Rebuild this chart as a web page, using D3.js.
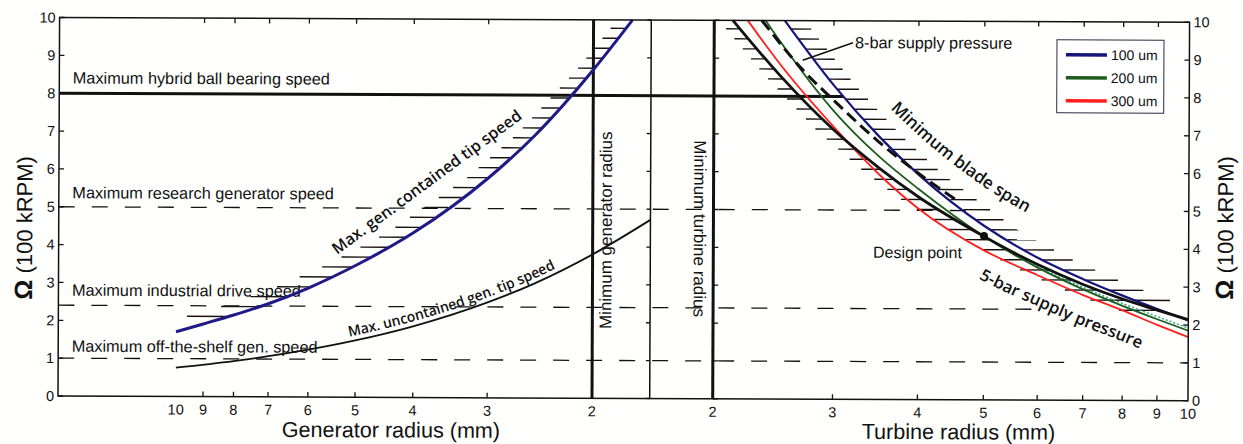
<!DOCTYPE html>
<html>
<head>
<meta charset="utf-8">
<script src="https://cdn.jsdelivr.net/npm/d3@7"></script>
<style>
body { margin: 0; background: #fff; }
svg { display: block; }
text { font-family: "Liberation Sans", Arial, sans-serif; fill: #111; }
.tick { font-family: "Liberation Sans Narrow", "Liberation Sans", Arial, sans-serif; font-size: 14.5px; }
.semi { font-family: "Open Sans", "Noto Sans", sans-serif; font-weight: 600; }
</style>
</head>
<body>
<svg id="chart" width="1243" height="444"></svg>
<script>
// speed limits (100 kRPM) and the turbine radius where each line stops
var limitNames = ["Maximum hybrid ball bearing speed", "Maximum research generator speed",
    "Maximum industrial drive speed", "Maximum off-the-shelf gen. speed"];
var limitValues = [8, 5, 2.4, 1];
var limitEnds = [3.1, 4.75, 6, 10];

// generator side, radius in mm
var genR = [10, 9, 8, 7, 6, 5, 4, 3, 2.5, 2, 1.72];
var genContained = [1.71, 1.92, 2.16, 2.46, 2.88, 3.48, 4.35, 5.8, 6.95, 8.68, 10];
var genUncR = [10, 8, 6, 5, 4, 3, 2.5, 2, 1.6];
var genUncontained = [0.76, 0.94, 1.25, 1.5, 1.88, 2.52, 3.03, 3.8, 4.72];

// turbine side
var bladeR = [2.54, 3, 3.5, 4, 5, 6, 7, 8, 9, 10];
var bladeSpan = [10, 8.3, 6.95, 5.95, 4.6, 3.76, 3.2, 2.77, 2.42, 2.12];
var supply5R = [2.13, 2.5, 3, 3.5, 4, 5, 6, 7, 8, 9, 10];
var supply5 = [10, 8.55, 7.12, 6.12, 5.36, 4.32, 3.58, 3.06, 2.68, 2.39, 2.14];
var supply8R = [2.35, 2.7, 3, 3.5, 4, 4.6];
var supply8 = [10, 8.7, 7.9, 6.8, 5.98, 5.22];
var clr200R = [2.38, 2.5, 3, 3.5, 4, 5, 6, 7, 8, 9, 10];
var clr200 = [10, 9.45, 7.62, 6.42, 5.57, 4.32, 3.5, 2.93, 2.5, 2.15, 1.85];
var clr300R = [2.24, 2.5, 3, 3.5, 4, 5, 6, 7, 8, 9, 10];
var clr300 = [10, 8.85, 7.2, 5.95, 5.05, 3.95, 3.3, 2.78, 2.38, 2.0, 1.68];
var clrDotR = [5, 6, 7, 8, 9, 10];
var clrDot = [4.3, 3.52, 2.98, 2.56, 2.22, 1.92];
var designR = 5, designSpeed = 4.33;

var speedTicks = [0, 1, 2, 3, 4, 5, 6, 7, 8, 9, 10];
var genTicks = [10, 9, 8, 7, 6, 5, 4, 3, 2];
var turbTicks = [2, 3, 4, 5, 6, 7, 8, 9, 10];
var legendNames = ["100 um", "200 um", "300 um"];

var navy = "#15157a", green = "#1d5c1d", red = "#ff1f1f", ink = "#111";
var legendColors = [navy, green, red];

var plotLeft = 58, plotRight = 1188, plotTop = 17.5, plotBottom = 396;

var y = d3.scaleLinear().domain([0, 10]).range([plotBottom, plotTop]);
var gx = d3.scaleLog().domain([9, 2]).range([203, 592]);
var tx = d3.scaleLog().domain([2, 10]).range([712.7, plotRight]);
var midX = gx(1.6);

function pairs(rs, ws) {
    return rs.map(function(r, i) { return [r, ws[i]]; });
}

function lineFor(scale, off) {
    return d3.line()
        .x(function(d) { return scale(d[0]); })
        .y(function(d) { return y(d[1]) + (off || 0); })
        .curve(d3.curveMonotoneX);
}

// x of a curve at a given speed, linear between points in log radius
function xAtLevel(rs, ws, scale, level) {
    for (var i = 0; i < ws.length - 1; i++) {
        var a = ws[i], b = ws[i + 1];
        if (a !== b && (level - a) * (level - b) <= 0) {
            var t = (level - a) / (b - a);
            return scale(Math.exp(Math.log(rs[i]) + t * (Math.log(rs[i + 1]) - Math.log(rs[i]))));
        }
    }
    return null;
}

var svg = d3.select("#chart");
svg.append("rect").attr("width", 1243).attr("height", 444).attr("fill", "#fffffd");

// the scan is a little tilted
var g = svg.append("g").attr("transform", "rotate(0.24," + plotLeft + "," + plotBottom + ")");

// speed limit lines
limitValues.forEach(function(v, i) {
    g.append("line")
        .attr("x1", plotLeft).attr("x2", tx(limitEnds[i]))
        .attr("y1", y(v)).attr("y2", y(v))
        .attr("stroke", ink)
        .attr("stroke-width", i === 0 ? 3 : 1.3)
        .attr("stroke-dasharray", i === 0 ? null : "16,17");
    g.append("text")
        .attr("x", 71.5)
        .attr("y", y(v) - [9.7, 8.5, 9.5, 6.5][i])
        .attr("font-size", "16.3px")
        .text(limitNames[i]);
});

// radius limits
g.append("line").attr("x1", gx(2)).attr("x2", gx(2)).attr("y1", plotTop).attr("y2", plotBottom)
    .attr("stroke", ink).attr("stroke-width", 3);
g.append("line").attr("x1", tx(2)).attr("x2", tx(2)).attr("y1", plotTop).attr("y2", plotBottom)
    .attr("stroke", ink).attr("stroke-width", 3);
g.append("line").attr("x1", midX).attr("x2", midX).attr("y1", plotTop).attr("y2", plotBottom)
    .attr("stroke", ink).attr("stroke-width", 1.5);

// hatching on the forbidden side of each bound
var levels = d3.range(30).map(function(k) { return 2.12 + 0.264 * k; });
function hatch(rs, ws, scale, side, a, b, minLevel) {
    levels.forEach(function(lv) {
        if (lv < minLevel) return;
        var xc = xAtLevel(rs, ws, scale, lv);
        if (xc === null) return;
        var len = a * Math.pow(lv, -b);
        var x1 = side < 0 ? Math.max(plotLeft, xc - len) : xc;
        var x2 = side < 0 ? xc : Math.min(plotRight, xc + len);
        g.append("line")
            .attr("x1", x1).attr("x2", x2)
            .attr("y1", y(lv)).attr("y2", y(lv))
            .attr("stroke", "#1a1212").attr("stroke-width", 1.4);
    });
}
hatch(genR, genContained, gx, -1, 68, 0.653, 2.1);
hatch(supply5R, supply5, tx, -1, 73, 0.725, 2.1);
hatch(bladeR, bladeSpan, tx, 1, 54, 0.437, 2.6);

// curves
function curve(rs, ws, scale, color, width, dash) {
    return g.append("path")
        .datum(pairs(rs, ws))
        .attr("d", lineFor(scale))
        .attr("fill", "none")
        .attr("stroke", color)
        .attr("stroke-width", width)
        .attr("stroke-dasharray", dash || null);
}
curve(genR, genContained, gx, "#1e1a86", 3);
curve(genUncR, genUncontained, gx, ink, 1.8);
curve(clrDotR, clrDot, tx, "#2aa58a", 1.5, "2,2");
curve(clr300R, clr300, tx, red, 1.8);
curve(clr200R, clr200, tx, green, 1.8);
curve(bladeR, bladeSpan, tx, navy, 2.2);
curve(supply8R, supply8, tx, ink, 3, "12,6");
curve(supply5R, supply5, tx, ink, 2.8);

g.append("circle")
    .attr("cx", tx(designR)).attr("cy", y(designSpeed)).attr("r", 4)
    .attr("fill", ink);

// frame and ticks
g.append("rect")
    .attr("x", plotLeft).attr("y", plotTop)
    .attr("width", plotRight - plotLeft).attr("height", plotBottom - plotTop)
    .attr("fill", "none").attr("stroke", ink).attr("stroke-width", 1.5);

speedTicks.forEach(function(v) {
    var yy = y(v);
    [[plotLeft, 5], [plotRight, -5], [midX, -4], [tx(2), 5]].forEach(function(t) {
        g.append("line").attr("x1", t[0]).attr("x2", t[0] + t[1])
            .attr("y1", yy).attr("y2", yy)
            .attr("stroke", ink).attr("stroke-width", 1.3);
    });
    g.append("text").attr("class", "tick")
        .attr("x", plotLeft - 4).attr("y", yy + 5)
        .attr("text-anchor", "end").text(v);
    g.append("text").attr("class", "tick")
        .attr("x", plotRight + 4).attr("y", yy + 5)
        .text(v);
});

function xTick(xx, label) {
    if (label !== 10 && label !== 2) {
        g.append("line").attr("x1", xx).attr("x2", xx).attr("y1", plotBottom).attr("y2", plotBottom - 5)
            .attr("stroke", ink).attr("stroke-width", 1.3);
        g.append("line").attr("x1", xx).attr("x2", xx).attr("y1", plotTop).attr("y2", plotTop + 5)
            .attr("stroke", ink).attr("stroke-width", 1.3);
    }
    g.append("text").attr("class", "tick")
        .attr("x", xx).attr("y", plotBottom + 18)
        .attr("text-anchor", "middle").text(label);
}
genTicks.forEach(function(r) { xTick(gx(r), r); });
turbTicks.forEach(function(r) { xTick(tx(r), r); });

// axis titles
g.append("text").attr("x", gx(4.35)).attr("y", 436)
    .attr("text-anchor", "middle").attr("font-size", "21.6px")
    .text("Generator radius (mm)");
g.append("text").attr("x", tx(4.6)).attr("y", 435.5)
    .attr("text-anchor", "middle").attr("font-size", "21.6px")
    .text("Turbine radius (mm)");

function speedTitle(xx, yy) {
    var t = g.append("text")
        .attr("transform", "translate(" + xx + "," + yy + ") rotate(-90)")
        .attr("text-anchor", "middle").attr("font-size", "22px");
    t.append("tspan").attr("font-weight", "bold").attr("font-size", "25px").text("Ω");
    t.append("tspan").text(" (100 kRPM)");
}
speedTitle(31.5, 228);
speedTitle(1232.5, 223);

// vertical labels
g.append("text")
    .attr("transform", "translate(" + (gx(2) + 19) + "," + 228 + ") rotate(-90)")
    .attr("text-anchor", "middle").attr("font-size", "17px")
    .text("Minimum generator radius");
g.append("text")
    .attr("transform", "translate(" + (tx(2) - 19.5) + "," + 226 + ") rotate(90)")
    .attr("text-anchor", "middle").attr("font-size", "17px")
    .text("Minimum turbine radius");

// labels on the curves
g.append("text").attr("class", "semi")
    .attr("transform", "translate(336.4,253.8) rotate(-36.6)")
    .attr("font-size", "16px")
    .attr("textLength", 231).attr("lengthAdjust", "spacingAndGlyphs")
    .text("Max. gen. contained tip speed");

function pathLabel(id, rs, ws, scale, off, startX, txt, size, len) {
    var p = g.append("path").attr("id", id)
        .datum(pairs(rs, ws))
        .attr("d", lineFor(scale, off))
        .attr("fill", "none").attr("stroke", "none");
    var node = p.node(), lo = 0, hi = node.getTotalLength();
    for (var k = 0; k < 40; k++) {
        var mid = (lo + hi) / 2;
        if (node.getPointAtLength(mid).x < startX) lo = mid; else hi = mid;
    }
    g.append("text").attr("class", "semi").attr("font-size", size)
        .append("textPath")
        .attr("href", "#" + id)
        .attr("startOffset", lo)
        .attr("textLength", len).attr("lengthAdjust", "spacingAndGlyphs")
        .text(txt);
}
pathLabel("uncPath", genUncR, genUncontained, gx, -5, 349, "Max. uncontained gen. tip speed", "14.5px", 218);
pathLabel("spanPath", bladeR, bladeSpan, tx, -39, 889, "Minimum blade span", "17px", 172);
pathLabel("fivePath", clr300R, clr300, tx, 31, 978, "5-bar supply pressure", "16.5px", 176);

g.append("text").attr("x", 872.4).attr("y", 254.4).attr("font-size", "16px").text("Design point");

g.append("line").attr("x1", 851.5).attr("y1", 39.5).attr("x2", tx(2.7)).attr("y2", y(8.95))
    .attr("stroke", ink).attr("stroke-width", 1.6);
g.append("text").attr("x", 853.5).attr("y", 44.8).attr("font-size", "16.3px").text("8-bar supply pressure");

// legend
var lg = g.append("g").attr("transform", "translate(1055.5,35.6)");
lg.append("rect").attr("width", 107).attr("height", 73)
    .attr("fill", "#fff").attr("stroke", "#2b2b45").attr("stroke-width", 1);
legendNames.forEach(function(n, i) {
    lg.append("line").attr("x1", 9).attr("x2", 50)
        .attr("y1", 15 + i * 23).attr("y2", 15 + i * 23)
        .attr("stroke", legendColors[i]).attr("stroke-width", 3.5);
    lg.append("text").attr("x", 54).attr("y", 20 + i * 23)
        .attr("font-size", "14px").text(n);
});
</script>
</body>
</html>
